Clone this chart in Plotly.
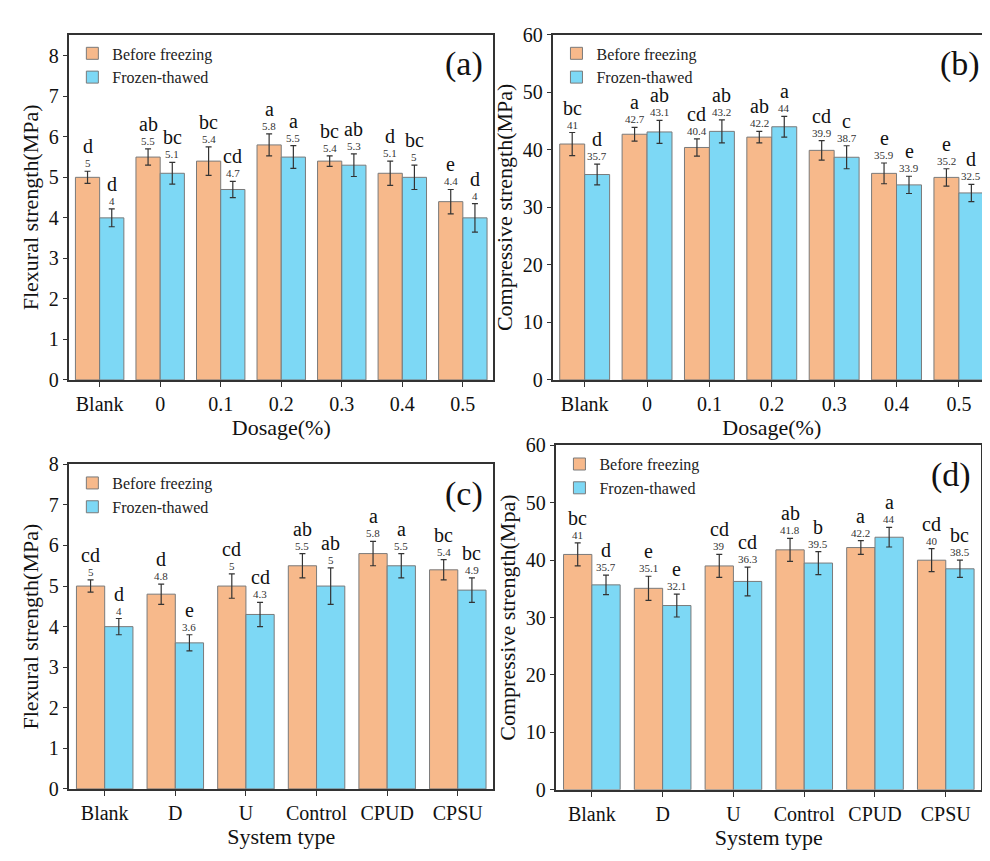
import plotly.graph_objects as go

dos_cats = ["Blank", "0", "0.1", "0.2", "0.3", "0.4", "0.5"]
sys_cats = ["Blank", "D", "U", "Control", "CPUD", "CPSU"]

a_before = [5, 5.5, 5.4, 5.8, 5.4, 5.1, 4.4]
a_after = [4, 5.1, 4.7, 5.5, 5.3, 5, 4]
a_before_err = [0.15, 0.2, 0.35, 0.27, 0.13, 0.3, 0.3]
a_after_err = [0.22, 0.27, 0.2, 0.28, 0.28, 0.3, 0.35]
a_before_let = ["d", "ab", "bc", "a", "bc", "d", "e"]
a_after_let = ["d", "bc", "cd", "a", "ab", "bc", "d"]

b_before = [41, 42.7, 40.4, 42.2, 39.9, 35.9, 35.2]
b_after = [35.7, 43.1, 43.2, 44, 38.7, 33.9, 32.5]
b_before_err = [2, 1.2, 1.5, 1, 1.7, 1.8, 1.5]
b_after_err = [1.8, 2, 2, 1.8, 2, 1.5, 1.5]
b_before_let = ["bc", "a", "cd", "ab", "cd", "e", "e"]
b_after_let = ["d", "ab", "ab", "a", "c", "e", "d"]

c_before = [5, 4.8, 5, 5.5, 5.8, 5.4]
c_after = [4, 3.6, 4.3, 5, 5.5, 4.9]
c_before_err = [0.15, 0.25, 0.3, 0.3, 0.3, 0.25]
c_after_err = [0.2, 0.2, 0.3, 0.45, 0.3, 0.3]
c_before_let = ["cd", "d", "cd", "ab", "a", "bc"]
c_after_let = ["d", "e", "cd", "ab", "a", "bc"]

d_before = [41, 35.1, 39, 41.8, 42.2, 40]
d_after = [35.7, 32.1, 36.3, 39.5, 44, 38.5]
d_before_err = [2, 2.1, 2, 2, 1.2, 2]
d_after_err = [1.7, 2, 2.5, 2, 1.7, 1.5]
d_before_let = ["bc", "e", "cd", "ab", "a", "cd"]
d_after_let = ["d", "e", "cd", "b", "a", "bc"]

ORANGE = "#F7B98B"
BLUE = "#7DD8F5"
FONT = "Liberation Serif"

fig = go.Figure()

panels = [
    dict(cats=dos_cats, bef=a_before, aft=a_after, be=a_before_err, ae=a_after_err,
         bl=a_before_let, al=a_after_let, yr=[0, 8.52], dt=1, ytitle="Flexural strength(MPa)",
         xtitle="Dosage(%)", lab="(a)", xd=[0.062, 0.490], yd=[0.568, 0.969], fmt="{:g}"),
    dict(cats=dos_cats, bef=b_before, aft=b_after, be=b_before_err, ae=b_after_err,
         bl=b_before_let, al=b_after_let, yr=[0, 60], dt=10, ytitle="Compressive strength(MPa)",
         xtitle="Dosage(%)", lab="(b)", xd=[0.551, 0.992], yd=[0.568, 0.969], fmt="{:g}"),
    dict(cats=sys_cats, bef=c_before, aft=c_after, be=c_before_err, ae=c_after_err,
         bl=c_before_let, al=c_after_let, yr=[0, 8], dt=1, ytitle="Flexural strength(MPa)",
         xtitle="System type", lab="(c)", xd=[0.062, 0.490], yd=[0.093, 0.470], fmt="{:g}"),
    dict(cats=sys_cats, bef=d_before, aft=d_after, be=d_before_err, ae=d_after_err,
         bl=d_before_let, al=d_after_let, yr=[0, 60], dt=10, ytitle="Compressive strength(Mpa)",
         xtitle="System type", lab="(d)", xd=[0.554, 0.983], yd=[0.092, 0.492], fmt="{:g}"),
]

annotations = []
for i, p in enumerate(panels):
    n = i + 1
    xa = "x" if n == 1 else f"x{n}"
    ya = "y" if n == 1 else f"y{n}"
    leg = "legend" if n == 1 else f"legend{n}"
    xs = list(range(len(p["cats"])))
    for vals, errs, col, name, off in [(p["bef"], p["be"], ORANGE, "Before freezing", -0.2),
                                       (p["aft"], p["ae"], BLUE, "Frozen-thawed", 0.2)]:
        fig.add_trace(go.Bar(
            x=[x + off for x in xs], y=vals, width=0.4, name=name,
            marker=dict(color=col, line=dict(color="#7a7a7a", width=1)),
            error_y=dict(type="data", array=errs, color="#333333", thickness=1.2, width=3),
            xaxis=xa, yaxis=ya, legend=leg))
        lets = p["bl"] if off < 0 else p["al"]
        for x, v, e, l in zip(xs, vals, errs, lets):
            annotations.append(dict(x=x + off, y=v + e, xref=xa, yref=ya, text=p["fmt"].format(v),
                                    showarrow=False, yanchor="bottom", yshift=0,
                                    font=dict(family=FONT, size=11, color="#333")))
            annotations.append(dict(x=x + off, y=v + e, xref=xa, yref=ya, text=l,
                                    showarrow=False, yanchor="bottom", yshift=12,
                                    font=dict(family=FONT, size=20, color="#111")))
    axis_common = dict(showline=True, linecolor="#333", linewidth=1.5, mirror=True,
                       ticks="outside", tickcolor="#333", showgrid=False, zeroline=False,
                       automargin=False,
                       tickfont=dict(family=FONT, size=20, color="#111"))
    fig.update_layout(**{
        ("xaxis" if n == 1 else f"xaxis{n}"): dict(
            domain=p["xd"], anchor=ya, range=[-0.5, len(xs) - 0.5],
            tickmode="array", tickvals=xs, ticktext=p["cats"],
            title=dict(text=p["xtitle"], font=dict(family=FONT, size=22, color="#111"), standoff=0),
            **axis_common),
        ("yaxis" if n == 1 else f"yaxis{n}"): dict(
            domain=p["yd"], anchor=xa, range=p["yr"], dtick=p["dt"],
            title=dict(text=p["ytitle"], font=dict(family=FONT, size=22, color="#111"), standoff=4),
            **axis_common),
        leg: dict(x=p["xd"][0] + 0.003, y=p["yd"][1] - 0.002, xanchor="left", yanchor="top",
                  xref="paper", yref="paper", bgcolor="rgba(0,0,0,0)",
                  font=dict(family=FONT, size=16, color="#222"), tracegroupgap=0),
    })
    annotations.append(dict(x=p["xd"][1] - 0.008, y=p["yd"][1] - 0.01, xref="paper", yref="paper",
                            text=p["lab"], showarrow=False, xanchor="right", yanchor="top",
                            font=dict(family=FONT, size=34, color="#111")))

fig.update_layout(width=990, height=861, margin=dict(l=0, r=0, t=0, b=0, autoexpand=False),
                  paper_bgcolor="white", plot_bgcolor="white", barmode="overlay",
                  annotations=annotations, showlegend=True)
fig.write_html("out.html")
